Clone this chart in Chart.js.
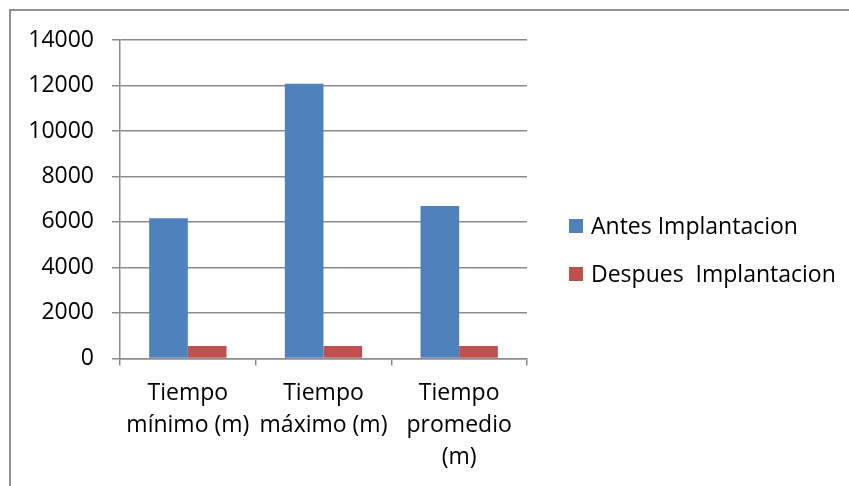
<!DOCTYPE html>
<html>
<head>
<meta charset="utf-8">
<script src="https://cdn.jsdelivr.net/npm/chart.js@4"></script>
<style>
  html, body { margin: 0; padding: 0; background: #fff; overflow: hidden; }
  #frame { position: absolute; left: 9px; top: 9px; width: 900px; height: 500px;
           border-left: 2px solid #8f8f8f; border-top: 2px solid #8f8f8f; }
  #wrap { position: absolute; left: 0; top: 0; width: 849px; height: 486px; }
</style>
</head>
<body>
<div id="frame"></div>
<div id="wrap"><canvas id="chart"></canvas></div>
<script>
// tiempos antes / despues de la implantacion
const categories = [
    ['Tiempo', 'mínimo (m)'],
    ['Tiempo', 'máximo (m)'],
    ['Tiempo', 'promedio', '(m)'],
];
const antes = [6160, 12080, 6700];
const despues = [550, 550, 550];
const seriesNames = ['Antes Implantacion', 'Despues  Implantacion'];
const seriesColors = ['#4f81bd', '#c0504d'];

const FONT = "'Open Sans', sans-serif";
const gridColor = '#8c8c8c';

// legend drawn by hand so the gap to the plot area can be set freely
const sideLegend = {
    id: 'sideLegend',
    afterDraw(chart) {
        const ctx = chart.ctx;
        const x = 569, y0 = 226, step = 48, box = 14;
        ctx.save();
        ctx.font = `23px ${FONT}`;
        ctx.textBaseline = 'middle';
        chart.data.datasets.forEach((ds, i) => {
            const y = y0 + i * step;
            ctx.fillStyle = ds.backgroundColor;
            ctx.fillRect(x, y - box / 2, box, box);
            ctx.fillStyle = '#000';
            ctx.fillText(ds.label, x + box + 8, y + 1);
        });
        ctx.restore();
    },
};

new Chart(document.getElementById('chart'), {
    type: 'bar',
    data: {
        labels: categories,
        datasets: [
            { label: seriesNames[0], data: antes, backgroundColor: seriesColors[0] },
            { label: seriesNames[1], data: despues, backgroundColor: seriesColors[1] },
        ].map(ds => ({ ...ds, categoryPercentage: 0.57, barPercentage: 1.0, borderWidth: 0 })),
    },
    options: {
        responsive: true, maintainAspectRatio: false,
        animation: false,
        layout: { padding: { left: 29, right: 322, top: 40, bottom: 0 } },
        scales: {
            x: {
                grid: { offset: true, drawOnChartArea: false, drawTicks: true, tickLength: 7, color: gridColor, lineWidth: 1.5 },
                border: { display: true, color: gridColor, width: 1.5 },
                ticks: {
                    color: '#000', padding: 12, maxRotation: 0, autoSkip: false,
                    font: { family: FONT, size: 23, lineHeight: 1.4 },
                },
            },
            y: {
                min: 0, max: 14000,
                afterFit: scale => { scale.width = 91; },
                grid: { color: gridColor, lineWidth: 1.5, tickLength: 8 },
                border: { display: true, color: gridColor, width: 1.5 },
                ticks: {
                    stepSize: 2000, color: '#000', padding: 18, font: { family: FONT, size: 23 },
                    callback: v => String(v),
                },
            },
        },
        plugins: {
            legend: { display: false },
            tooltip: { enabled: false },
        },
    },
    plugins: [sideLegend],
});
</script>
</body>
</html>
